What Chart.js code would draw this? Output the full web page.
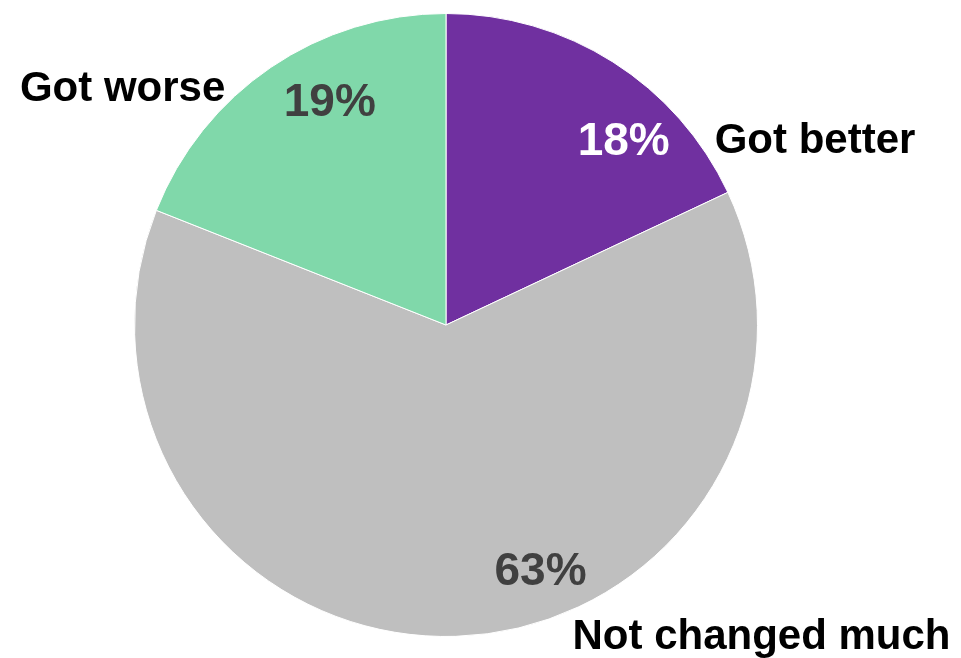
<!DOCTYPE html>
<html>
<head>
<meta charset="utf-8">
<script src="https://cdn.jsdelivr.net/npm/chart.js@4/dist/chart.umd.min.js"></script>
<style>
    html, body { margin: 0; padding: 0; background: #fff; }
    #wrap { width: 961px; height: 658px; }
</style>
</head>
<body>
<div id="wrap"><canvas id="pieChart"></canvas></div>
<script>
const categories = ['Got better', 'Not changed much', 'Got worse'];
const shares = [18, 63, 19];
const sliceColors = ['#7030A0', '#BFBFBF', '#80D8AA'];

// label placement: angle (deg, clockwise from 12 o'clock) and distance as a fraction of the radius
const pctLayout = [
    { angle: 46.3, r: 0.789, color: '#FFFFFF' },
    { angle: 160.0, r: 0.887, color: '#404040' },
    { angle: -29.1, r: 0.767, color: '#404040' }
];
const nameLayout = [
    { angle: 57.3, r: 1.025, align: 'left' },
    { angle: 158.7, r: 1.118, align: 'left' },
    { angle: -44.6, r: 1.009, align: 'right' }
];

const pieLabels = {
    id: 'pieLabels',
    afterDatasetsDraw(chart) {
        const ctx = chart.ctx;
        const arcs = chart.getDatasetMeta(0).data;
        ctx.save();
        ctx.textBaseline = 'alphabetic';
        arcs.forEach((arc, i) => {
            const cx = arc.x, cy = arc.y, R = arc.outerRadius;
            const at = (deg, f) => {
                const a = deg * Math.PI / 180;
                return [cx + Math.sin(a) * R * f, cy - Math.cos(a) * R * f];
            };

            let p = at(pctLayout[i].angle, pctLayout[i].r);
            ctx.font = 'bold 46px "Liberation Sans", Arial, sans-serif';
            ctx.fillStyle = pctLayout[i].color;
            ctx.textAlign = 'center';
            ctx.fillText(shares[i] + '%', p[0], p[1]);

            p = at(nameLayout[i].angle, nameLayout[i].r);
            ctx.font = 'bold 42px "Liberation Sans", Arial, sans-serif';
            ctx.fillStyle = '#000000';
            ctx.textAlign = nameLayout[i].align;
            ctx.fillText(categories[i], p[0], p[1]);
        });
        ctx.restore();
    }
};

new Chart(document.getElementById('pieChart'), {
    type: 'pie',
    data: {
        labels: categories,
        datasets: [{
            data: shares,
            backgroundColor: sliceColors,
            borderColor: '#FFFFFF',
            borderWidth: 1
        }]
    },
    options: {
        responsive: true,
        maintainAspectRatio: false,
        animation: false,
        layout: {
            padding: { left: 134, right: 203, top: 13, bottom: 21 }
        },
        plugins: {
            legend: { display: false },
            tooltip: { enabled: false }
        }
    },
    plugins: [pieLabels]
});
</script>
</body>
</html>
